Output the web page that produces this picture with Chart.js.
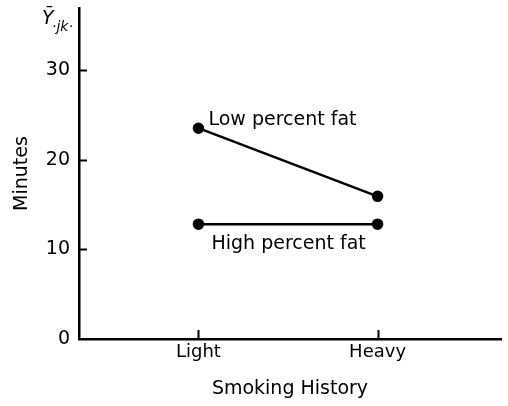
<!DOCTYPE html>
<html>
<head>
<meta charset="utf-8">
<script src="https://cdn.jsdelivr.net/npm/chart.js@4"></script>
<style>
html,body{margin:0;padding:0;background:#fff;}
#wrap{width:508px;height:406px;}
</style>
</head>
<body>
<div id="wrap"><canvas id="c" width="508" height="406"></canvas></div>
<script>
const categories = ['Light', 'Heavy'];
const lowFat = [23.5, 15.9];
const highFat = [12.8, 12.8];
const seriesNames = ['Low percent fat', 'High percent fat'];
const yTicks = [0, 10, 20, 30];
const yAxisTitle = 'Minutes';
const xAxisTitle = 'Smoking History';

const FONT = '"DejaVu Sans"';
const toXY = arr => arr.map((v, i) => ({x: i + 1, y: v}));

const overlay = {
  id: 'overlay',
  afterDraw(chart) {
    const ctx = chart.ctx;
    const xs = chart.scales.x, ys = chart.scales.y;
    const ca = chart.chartArea;
    ctx.save();
    ctx.strokeStyle = '#000';
    ctx.lineWidth = 2;
    // inward ticks
    yTicks.forEach(v => {
      if (v === 0) return;
      const py = Math.round(ys.getPixelForValue(v)) + 0.5;
      ctx.beginPath(); ctx.moveTo(ca.left, py); ctx.lineTo(ca.left + 8, py); ctx.stroke();
    });
    categories.forEach((c, i) => {
      const px = Math.round(xs.getPixelForValue(i + 1)) + 0.5;
      ctx.beginPath(); ctx.moveTo(px, ca.bottom); ctx.lineTo(px, ca.bottom - 9); ctx.stroke();
    });
    // series labels
    ctx.fillStyle = '#000';
    ctx.font = '19px ' + FONT;
    ctx.textBaseline = 'alphabetic';
    ctx.textAlign = 'left';
    ctx.fillText(seriesNames[0], xs.getPixelForValue(1) + 10, ys.getPixelForValue(lowFat[0]) - 3);
    ctx.fillText(seriesNames[1], xs.getPixelForValue(1) + 13, ys.getPixelForValue(highFat[0]) + 25);
    // Y-bar label
    ctx.font = 'italic 19px ' + FONT;
    ctx.fillText('Ȳ', ca.left - 37, 24);
    ctx.font = 'italic 14px ' + FONT;
    ctx.fillText('·jk·', ca.left - 27, 31);
    ctx.restore();
  }
};

new Chart(document.getElementById('c'), {
  type: 'line',
  data: {
    datasets: [
      {label: seriesNames[0], data: toXY(lowFat), borderColor: '#000', backgroundColor: '#000', borderWidth: 2.5, pointRadius: 4.5, pointBackgroundColor: '#000', tension: 0},
      {label: seriesNames[1], data: toXY(highFat), borderColor: '#000', backgroundColor: '#000', borderWidth: 2.5, pointRadius: 4.5, pointBackgroundColor: '#000', tension: 0}
    ]
  },
  options: {
    responsive: false,
    animation: false,
    layout: {padding: {top: 8, right: 5, left: 0, bottom: 0}},
    plugins: {legend: {display: false}, tooltip: {enabled: false}},
    scales: {
      x: {
        type: 'linear',
        min: 1 - 120 / 180,
        max: 1 + 304 / 180,
        grid: {display: false, drawTicks: false, tickLength: 0},
        border: {display: true, color: '#000', width: 2.5},
        afterBuildTicks: s => { s.ticks = categories.map((c, i) => ({value: i + 1})); },
        afterFit: s => { s.height = 67; s.paddingLeft = 0; s.paddingRight = 0; },
        ticks: {
          color: '#000', font: {family: FONT, size: 18}, padding: 3, maxRotation: 0, autoSkip: false,
          callback: v => categories[v - 1] || ''
        },
        title: {display: true, text: xAxisTitle, color: '#000', font: {family: FONT, size: 19}, padding: {top: 0, bottom: 6}}
      },
      y: {
        min: 0,
        max: 36.9,
        grid: {display: false, drawTicks: false, tickLength: 0},
        border: {display: true, color: '#000', width: 2.5},
        afterBuildTicks: s => { s.ticks = yTicks.map(v => ({value: v})); },
        afterFit: s => { s.width = 79; s.paddingTop = 0; s.paddingBottom = 0; },
        ticks: {color: '#000', font: {family: FONT, size: 19}, padding: 9, callback: v => String(v)},
        title: {display: true, text: yAxisTitle, color: '#000', font: {family: FONT, size: 19}, padding: {top: 11, bottom: 0}}
      }
    }
  },
  plugins: [overlay]
});
</script>
</body>
</html>
